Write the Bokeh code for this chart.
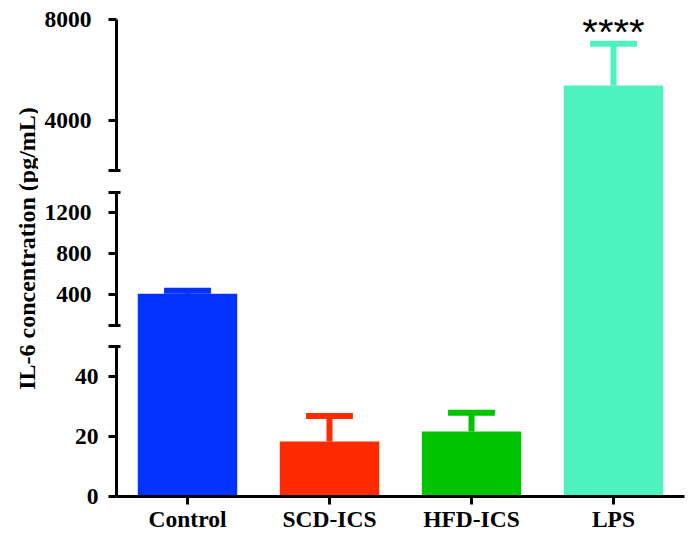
import numpy as np
from bokeh.plotting import figure
from bokeh.layouts import column, row
from bokeh.models import (Range1d, FactorRange, FixedTicker, Label, ColumnDataSource,
                          CDSView, BooleanFilter)
from bokeh.core.properties import value
from bokeh.embed import file_html
from bokeh.resources import INLINE

# ---- data ----
groups = ["Control", "SCD-ICS", "HFD-ICS", "LPS"]
means = [410, 18.3, 21.7, 5380]
upper = [439, 26.8, 27.9, 7035]
colors = ["#0433FF", "#FF2A00", "#00C400", "#4DF2BF"]
signif_group = ["LPS"]
signif_text = ["****"]

# broken y-axis segments (top to bottom)
seg_ranges = [(2000, 8000), (100, 1400), (0, 50)]
seg_ticks = [[4000, 8000], [400, 800, 1200], [0, 20, 40]]
seg_breaks = [[2000], [100, 1400], [50]]
y_title = "IL-6 concentration (pg/mL)"

# ---- layout / style ----
FONT = "Liberation Serif"
LBL_SIZE = "23.5px"
seg_px = [151, 133, 150]          # pixel height of each axis segment
gap_above = [0, 12, 12]           # pixels of frame above each segment
gap_below = [11, 10, 0]           # pixels of frame below each segment
borders_top = [19, 0, 0]
borders_bottom = [0, 0, 41]
overlap = [0, 1, 1]               # canvases overlap by one pixel to hide seams
standoffs = [17, 17, 10]
LEFT_W = 38

src = ColumnDataSource(dict(group=groups, mean=means, upper=upper, color=colors))
x_range = FactorRange(*groups)

figs = []
for i in range(3):
    last = i == 2
    s0, s1 = seg_ranges[i]
    scale = (s1 - s0) / seg_px[i]            # data units per pixel
    r0 = s0 - gap_below[i] * scale
    r1 = s1 + gap_above[i] * scale
    p = figure(x_range=x_range, y_range=Range1d(r0, r1),
               frame_width=568, frame_height=seg_px[i] + gap_above[i] + gap_below[i],
               min_border_left=116 - LEFT_W, min_border_right=4,
               min_border_top=borders_top[i], min_border_bottom=borders_bottom[i],
               toolbar_location=None, output_backend="svg",
               x_axis_location="below" if last else None,
               outline_line_color=None, background_fill_color=None,
               border_fill_color=None, margin=(-overlap[i], 0, 0, 0))
    p.grid.visible = False

    view = CDSView(filter=BooleanFilter([m > s0 for m in means]))
    p.vbar(x="group", top="mean", bottom=min(r0, 0), width=0.70, source=src, view=view,
           fill_color="color", line_color=None)
    eview = CDSView(filter=BooleanFilter([u > s0 for u in upper]))
    p.segment(x0="group", y0="mean", x1="group", y1="upper", source=src, view=eview,
              line_color="color", line_width=6)
    p.rect(x="group", y="upper", width=0.33, height=6, height_units="screen",
           source=src, view=eview, fill_color="color", line_color=None)

    ax = p.yaxis[0]
    ax.bounds = (s0, s1)
    ax.ticker = FixedTicker(ticks=seg_ticks[i], minor_ticks=seg_breaks[i])
    ax.axis_line_width = 3
    ax.axis_line_color = "black"
    ax.major_tick_line_width = 3
    ax.major_tick_out = 8
    ax.major_tick_in = 0
    ax.minor_tick_line_width = 3
    ax.minor_tick_out = 8
    ax.minor_tick_in = 4
    ax.major_label_text_font = FONT
    ax.major_label_text_font_style = "bold"
    ax.major_label_text_font_size = LBL_SIZE
    ax.major_label_text_color = "black"
    ax.major_label_standoff = standoffs[i]

    if last:
        xa = p.xaxis[0]
        xa.axis_line_width = 3
        xa.axis_line_color = "black"
        xa.major_tick_line_width = 3
        xa.major_tick_out = 8
        xa.major_tick_in = 0
        xa.major_label_text_font = FONT
        xa.major_label_text_font_style = "bold"
        xa.major_label_text_font_size = LBL_SIZE
        xa.major_label_text_color = "black"
        xa.major_label_standoff = 1

    if i == 0:
        sig_src = ColumnDataSource(dict(group=signif_group, text=signif_text,
                                        y=[upper[groups.index(g)] for g in signif_group]))
        p.text(x="group", y="y", text="text", source=sig_src,
               text_font=value("Liberation Sans"), text_font_size="40px",
               text_align="center", text_baseline="middle", y_offset=-12,
               text_color="black")
    figs.append(p)

lab = figure(width=LEFT_W, height=537, x_range=Range1d(0, LEFT_W), y_range=Range1d(0, 537),
             toolbar_location=None, output_backend="svg", min_border=0,
             x_axis_location=None, y_axis_location=None, outline_line_color=None)
lab.grid.visible = False
lab.add_layout(Label(x=26, y=537 - 248, text=y_title, angle=np.pi / 2,
                     text_align="center", text_baseline="middle",
                     text_font=FONT, text_font_style="bold", text_font_size="24px",
                     text_color="black"))

layout = row(lab, column(*figs, spacing=0), spacing=0)

open("out.html", "w").write(file_html(layout, INLINE))
